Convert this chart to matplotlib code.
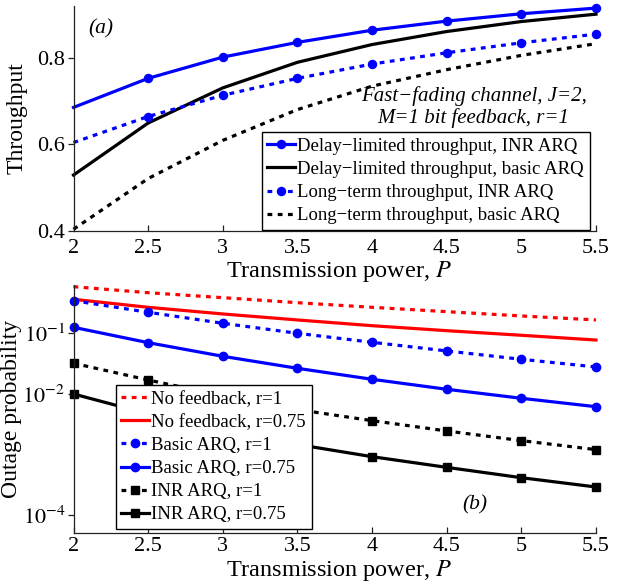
import matplotlib
matplotlib.use("Agg")
import matplotlib.pyplot as plt
from matplotlib.ticker import FixedLocator, NullLocator, FixedFormatter

plt.rcParams['font.family'] = ['Liberation Serif', 'DejaVu Serif']
plt.rcParams['mathtext.fontset'] = 'stix'

# ---------------- data ----------------
power = [2, 2.5, 3, 3.5, 4, 4.5, 5, 5.5]
xticks = [2, 2.5, 3, 3.5, 4, 4.5, 5, 5.5]
xtick_labels = ['2', '2.5', '3', '3.5', '4', '4.5', '5', '5.5']

# (a) throughput
dl_inr = [0.685, 0.752, 0.801, 0.835, 0.863, 0.884, 0.901, 0.914]
dl_basic = [0.529, 0.649, 0.730, 0.789, 0.830, 0.860, 0.883, 0.900]
lt_inr = [0.604, 0.664, 0.713, 0.752, 0.785, 0.811, 0.834, 0.854]
lt_basic = [0.404, 0.521, 0.609, 0.680, 0.734, 0.772, 0.805, 0.832]
yticks_a = [0.4, 0.6, 0.8]
ytick_labels_a = ['0.4', '0.6', '0.8']
labels_a = ['Delay\u2212limited throughput, INR ARQ',
            'Delay\u2212limited throughput, basic ARQ',
            'Long\u2212term throughput, INR ARQ',
            'Long\u2212term throughput, basic ARQ']

# (b) outage probability
nf_r1 = [0.5875, 0.4677, 0.3873, 0.3199, 0.2685, 0.2275, 0.1932, 0.1660]
nf_r075 = [0.3639, 0.2685, 0.2084, 0.1660, 0.1334, 0.1104, 0.0927, 0.0774]
basic_r1 = [0.3451, 0.2223, 0.1462, 0.1000, 0.0710, 0.0511, 0.0372, 0.0278]
basic_r075 = [0.1256, 0.0700, 0.0417, 0.0264, 0.0174, 0.0119, 0.00845, 0.00614]
inr_r1 = [0.0320, 0.01694, 0.00933, 0.00550, 0.00361, 0.00244, 0.00169, 0.00120]
inr_r075 = [0.00995, 0.00468, 0.00251, 0.00146, 0.000918, 0.000612, 0.000413, 0.000290]
yticks_b = [1e-4, 1e-2, 1e-1]
ytick_labels_b = [r'$10^{-4}$', r'$10^{-2}$', r'$10^{-1}$']
labels_b = ['No feedback, r=1', 'No feedback, r=0.75', 'Basic ARQ, r=1',
            'Basic ARQ, r=0.75', 'INR ARQ, r=1', 'INR ARQ, r=0.75']

# ---------------- styles ----------------
LW = 2.3
DASH = (1.5, 1.7)
BLUE = (0, 0, 1)
RED = (1, 0, 0)
TICK_FS = 16
XLABEL_FS = 17.5
YLABEL_FS = 17
LEG_FS = 13.5

fig = plt.figure(figsize=(6.33, 5.83), dpi=100)
ax1 = fig.add_axes([73.5 / 633, 1 - 231 / 583, 522.5 / 633, 225.5 / 583])
ax2 = fig.add_axes([73.5 / 633, 1 - 533 / 583, 522.5 / 633, 248 / 583])


def style_axes(ax, xpad):
    for s in ['top', 'right']:
        ax.spines[s].set_visible(False)
    for s in ['left', 'bottom']:
        ax.spines[s].set_linewidth(0.9)
        ax.spines[s].set_color('#222222')
    ax.tick_params(axis='x', direction='in', length=4.5, width=0.9, pad=xpad,
                   labelsize=TICK_FS, color='#222222')
    ax.tick_params(axis='y', direction='out', length=4, width=0.9, pad=2,
                   labelsize=TICK_FS, color='#222222')
    ax.set_xlim(2, 5.5)
    ax.xaxis.set_major_locator(FixedLocator(xticks))
    ax.xaxis.set_major_formatter(FixedFormatter(xtick_labels))


def dashed(line):
    line.set_dashes(DASH)
    line.set_dash_capstyle('butt')


# ---------------- (a) ----------------
ax1.plot(power, dl_inr, color=BLUE, lw=LW, marker='o', ms=5.8,
         markevery=[1, 2, 3, 4, 5, 6, 7], clip_on=False, label=labels_a[0])
ax1.plot(power, dl_basic, color='k', lw=LW, clip_on=False, label=labels_a[1])
dashed(ax1.plot(power, lt_inr, color=BLUE, lw=LW, marker='o', ms=5.8,
                markevery=[1, 2, 3, 4, 5, 6, 7], clip_on=False,
                label=labels_a[2])[0])
dashed(ax1.plot(power, lt_basic, color='k', lw=LW, clip_on=False,
                label=labels_a[3])[0])

style_axes(ax1, 6)
ax1.set_ylim(0.4, 0.92)
ax1.yaxis.set_major_locator(FixedLocator(yticks_a))
ax1.yaxis.set_major_formatter(FixedFormatter(ytick_labels_a))
ax1.set_ylabel('Throughput', fontsize=YLABEL_FS)
ax1.yaxis.set_label_coords(-0.088, 0.5)
ax1.set_xlabel('Transmission power, $P$', fontsize=XLABEL_FS)
ax1.xaxis.label.set_va('baseline')
ax1.xaxis.set_label_coords(0.509, -0.206)

ax1.text(0.0517, 0.895, '(a)', transform=ax1.transAxes, fontsize=15.5,
         style='italic', ha='center', va='center')
ax1.text(0.766, 0.55, 'Fast\u2212fading channel, J=2,\nM=1 bit feedback, r=1',
         transform=ax1.transAxes, fontsize=15, style='italic',
         ha='center', va='center', linespacing=1.1)

leg1 = ax1.legend(loc='lower right', bbox_to_anchor=(0.988, 0.004),
                  borderaxespad=0, fontsize=LEG_FS, frameon=True, fancybox=False,
                  edgecolor='k', framealpha=1, handlelength=1.45,
                  handletextpad=0.15, labelspacing=0.33, borderpad=0.3,
                  numpoints=1)
leg1.get_frame().set_linewidth(1.0)

# ---------------- (b) ----------------
dashed(ax2.semilogy(power, nf_r1, color=RED, lw=LW, clip_on=False,
                    label=labels_b[0])[0])
ax2.semilogy(power, nf_r075, color=RED, lw=LW, clip_on=False, label=labels_b[1])
dashed(ax2.semilogy(power, basic_r1, color=BLUE, lw=LW, marker='o', ms=6,
                    clip_on=False, label=labels_b[2])[0])
ax2.semilogy(power, basic_r075, color=BLUE, lw=LW, marker='o', ms=6,
             clip_on=False, label=labels_b[3])
dashed(ax2.semilogy(power, inr_r1, color='k', lw=LW, marker='s', ms=5.3,
                    clip_on=False, label=labels_b[4])[0])
ax2.semilogy(power, inr_r075, color='k', lw=LW, marker='s', ms=5.3,
             clip_on=False, label=labels_b[5])

style_axes(ax2, 3)
ax2.set_ylim(10 ** -4.297, 10 ** -0.203)
ax2.yaxis.set_major_locator(FixedLocator(yticks_b))
ax2.yaxis.set_major_formatter(FixedFormatter(ytick_labels_b))
ax2.yaxis.set_minor_locator(NullLocator())
ax2.set_ylabel('Outage probability', fontsize=YLABEL_FS)
ax2.yaxis.set_label_coords(-0.099, 0.5)
ax2.set_xlabel('Transmission power, $P$', fontsize=XLABEL_FS)
ax2.xaxis.label.set_va('baseline')
ax2.xaxis.set_label_coords(0.509, -0.172)

ax2.text(0.768, 0.113, '(b)', transform=ax2.transAxes, fontsize=15.5,
         style='italic', ha='center', va='center')

leg2 = ax2.legend(loc='lower left', bbox_to_anchor=(0.081, 0.016),
                  borderaxespad=0, fontsize=LEG_FS, frameon=True, fancybox=False,
                  edgecolor='k', framealpha=1, handlelength=1.45,
                  handletextpad=0.15, labelspacing=0.32, borderpad=0.3,
                  numpoints=1)
leg2.get_frame().set_linewidth(1.0)

fig.savefig('out.png', dpi=100)
